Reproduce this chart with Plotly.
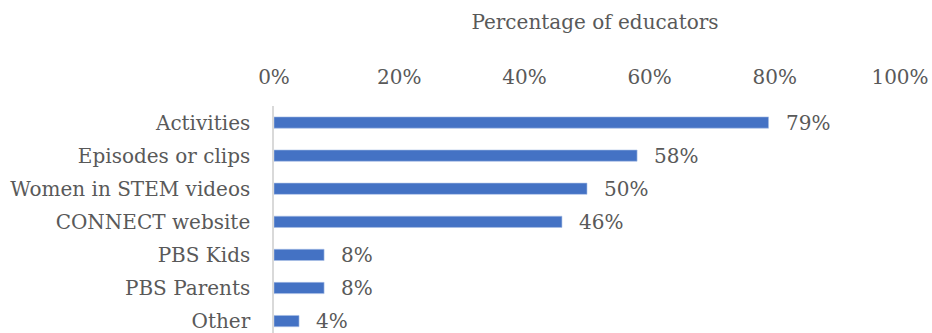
import plotly.graph_objects as go

categories = ["Activities", "Episodes or clips", "Women in STEM videos", "CONNECT website",
              "PBS Kids", "PBS Parents", "Other"]
values = [79, 58, 50, 46, 8, 8, 4]
tick_vals = [0, 20, 40, 60, 80, 100]
tick_text = ["0%", "20%", "40%", "60%", "80%", "100%"]
axis_title = "Percentage of educators"

FONT = "DejaVu Serif"
GREY = "#595959"
FS = 20

fig = go.Figure()
fig.add_trace(go.Bar(
    y=categories, x=values, orientation="h",
    marker=dict(color="#4472C4", line=dict(color="#A9BFE6", width=0.6)),
    width=0.34, hoverinfo="skip",
))
for c, v in zip(categories, values):
    fig.add_annotation(x=v, y=c, text=f"{v}%", xanchor="left", yanchor="middle",
                       xshift=15, showarrow=False,
                       font=dict(family=FONT, size=FS, color=GREY))

fig.update_layout(
    width=932, height=333,
    margin=dict(l=274, r=32, t=106, b=0),
    paper_bgcolor="white", plot_bgcolor="white",
    showlegend=False,
    font=dict(family=FONT, size=FS, color=GREY),
    title=dict(text=axis_title, xref="paper", x=0.5 + 8 / 626, xanchor="center",
               yref="container", y=1 - 22 / 333, yanchor="middle",
               font=dict(family=FONT, size=FS, color=GREY)),
)
fig.update_xaxes(side="top", range=[0, 100], tickvals=tick_vals, ticktext=tick_text,
                 showgrid=False, zeroline=False, showline=False, ticks="",
                 ticklabelstandoff=17, tickfont=dict(family=FONT, size=FS, color=GREY))
fig.update_yaxes(categoryorder="array", categoryarray=categories,
                 range=[6.36, -0.5], showgrid=False, zeroline=False,
                 showline=True, linecolor="#D9D9D9", linewidth=1.5, ticks="",
                 ticklabelstandoff=18, tickfont=dict(family=FONT, size=FS, color=GREY))
fig.write_html("out.html")
